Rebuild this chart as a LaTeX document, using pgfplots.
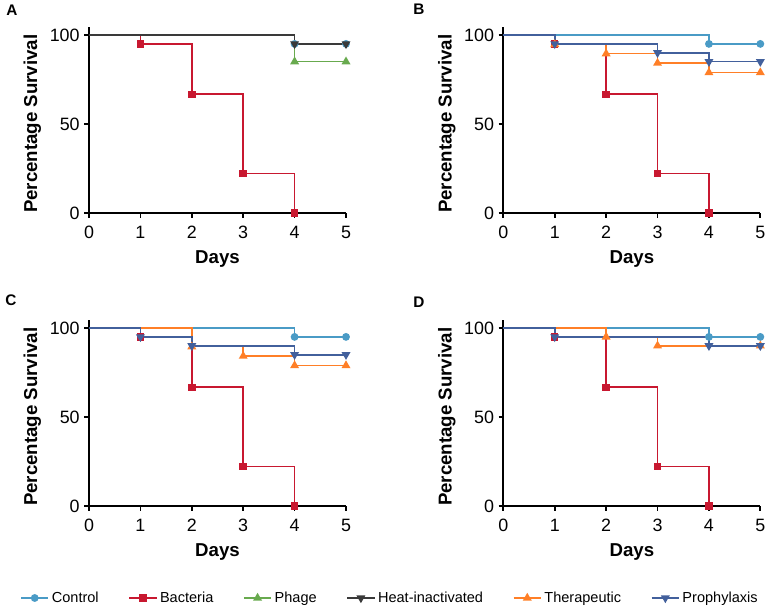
\documentclass[border=0pt]{standalone}
\usepackage{fontspec}
\setmainfont{Liberation Sans}
\usepackage{pgfplots}
\pgfplotsset{compat=1.18}
\definecolor{cCtrl}{RGB}{74,155,198}
\definecolor{cBact}{RGB}{200,24,48}
\definecolor{cPhage}{RGB}{104,170,78}
\definecolor{cHeat}{RGB}{58,58,58}
\definecolor{cTher}{RGB}{255,127,39}
\definecolor{cProph}{RGB}{66,96,156}
\pgfplotsset{
  ctrl/.style={color=cCtrl, line width=1.2pt, mark=*, mark size=2.3pt, mark options={solid}},
  bact/.style={color=cBact, line width=1.2pt, mark=square*, mark size=2.2pt, mark options={solid}},
  phage/.style={color=cPhage, line width=1.2pt, mark=triangle*, mark size=2.7pt, mark options={solid}},
  heat/.style={color=cHeat, line width=1.2pt, mark=triangle*, mark size=2.7pt, mark options={solid,rotate=180}},
  ther/.style={color=cTher, line width=1.2pt, mark=triangle*, mark size=2.7pt, mark options={solid}},
  proph/.style={color=cProph, line width=1.2pt, mark=triangle*, mark size=2.7pt, mark options={solid,rotate=180}},
  km/.style={const plot mark left, mark indices={2,3,4,5,6,7}},
  panel/.style={
    width=192.75pt, height=139.5pt, scale only axis,
    xmin=0, xmax=5, ymin=0, ymax=104.5,
    axis x line*=bottom, axis y line*=left,
    axis line style={line width=1.3pt, black},
    xtick={0,1,2,3,4,5}, ytick={0,50,100},
    tick align=outside, major tick length=3.5pt,
    every tick/.style={line width=1.3pt, black},
    clip=false,
    /pgf/number format/assume math mode=true,
    tick label style={font=\fontsize{13.4}{15}\selectfont},
    xticklabel style={yshift=-3pt},
    xlabel={Days}, ylabel={Percentage Survival},
    label style={font=\bfseries\fontsize{14}{16}\selectfont},
    x label style={at={(axis description cs:0.5,-0.245)}, anchor=center},
    y label style={at={(axis description cs:-0.22,0.48)}, anchor=center},
  },
}
\begin{document}
\begin{tikzpicture}
\useasboundingbox (0,0) rectangle (574.5pt,459.75pt);
% Panel A
\begin{axis}[panel, at={(66.75pt,300pt)}, anchor=south west]
\addplot[ctrl, km] coordinates {(0,100) (4,95) (5,95)};
\addplot[bact, km] coordinates {(0,100) (1,95) (2,66.7) (3,22.2) (4,0)};
\addplot[phage, km] coordinates {(0,100) (4,85) (5,85)};
\addplot[heat, km] coordinates {(0,100) (4,95) (5,95)};
\end{axis}
% Panel B
\begin{axis}[panel, at={(377.5pt,300pt)}, anchor=south west]
\addplot[ctrl, km] coordinates {(0,100) (4,95) (5,95)};
\addplot[bact, km] coordinates {(0,100) (1,95) (2,66.7) (3,22.2) (4,0)};
\addplot[ther, km] coordinates {(0,100) (1,94.7) (2,89.5) (3,84.2) (4,78.9) (5,78.9)};
\addplot[proph, km] coordinates {(0,100) (1,95) (3,90) (4,85) (5,85)};
\end{axis}
% Panel C
\begin{axis}[panel, at={(66.75pt,80.25pt)}, anchor=south west,
  legend columns=6,
  legend style={at={(axis description cs:-0.2685,-0.4946)}, anchor=west, draw=none, fill=none, inner sep=0pt,
    font=\fontsize{10.9}{12}\selectfont,
    /tikz/every even column/.append style={column sep=20.3pt}},
  legend image code/.code={\draw[mark repeat=2,mark phase=2] plot coordinates {(0pt,0pt) (10.25pt,0pt) (20.5pt,0pt)};}]
\addlegendimage{ctrl}
\addlegendimage{bact}
\addlegendimage{phage}
\addlegendimage{heat}
\addlegendimage{ther}
\addlegendimage{proph}
\legend{Control, Bacteria, Phage, Heat-inactivated, Therapeutic, Prophylaxis}
\addplot[ctrl, km, forget plot] coordinates {(0,100) (4,95) (5,95)};
\addplot[bact, km, forget plot] coordinates {(0,100) (1,95) (2,66.7) (3,22.2) (4,0)};
\addplot[ther, km, forget plot] coordinates {(0,100) (2,89.5) (3,84.2) (4,78.9) (5,78.9)};
\addplot[proph, km, forget plot] coordinates {(0,100) (1,95) (2,90) (4,85) (5,85)};
\end{axis}
% Panel D
\begin{axis}[panel, at={(377.5pt,80.25pt)}, anchor=south west]
\addplot[ctrl, km] coordinates {(0,100) (4,95) (5,95)};
\addplot[bact, km] coordinates {(0,100) (1,95) (2,66.7) (3,22.2) (4,0)};
\addplot[ther, km] coordinates {(0,100) (2,95) (3,90) (5,90)};
\addplot[proph, km] coordinates {(0,100) (1,95) (4,90) (5,90)};
\end{axis}
\node[font=\bfseries\fontsize{11.5}{13}\selectfont] at (9pt,452.25pt) {A};
\node[font=\bfseries\fontsize{11.5}{13}\selectfont] at (314.25pt,453pt) {B};
\node[font=\bfseries\fontsize{11.5}{13}\selectfont] at (8.25pt,234.75pt) {C};
\node[font=\bfseries\fontsize{11.5}{13}\selectfont] at (314.25pt,233.25pt) {D};
\end{tikzpicture}
\end{document}
